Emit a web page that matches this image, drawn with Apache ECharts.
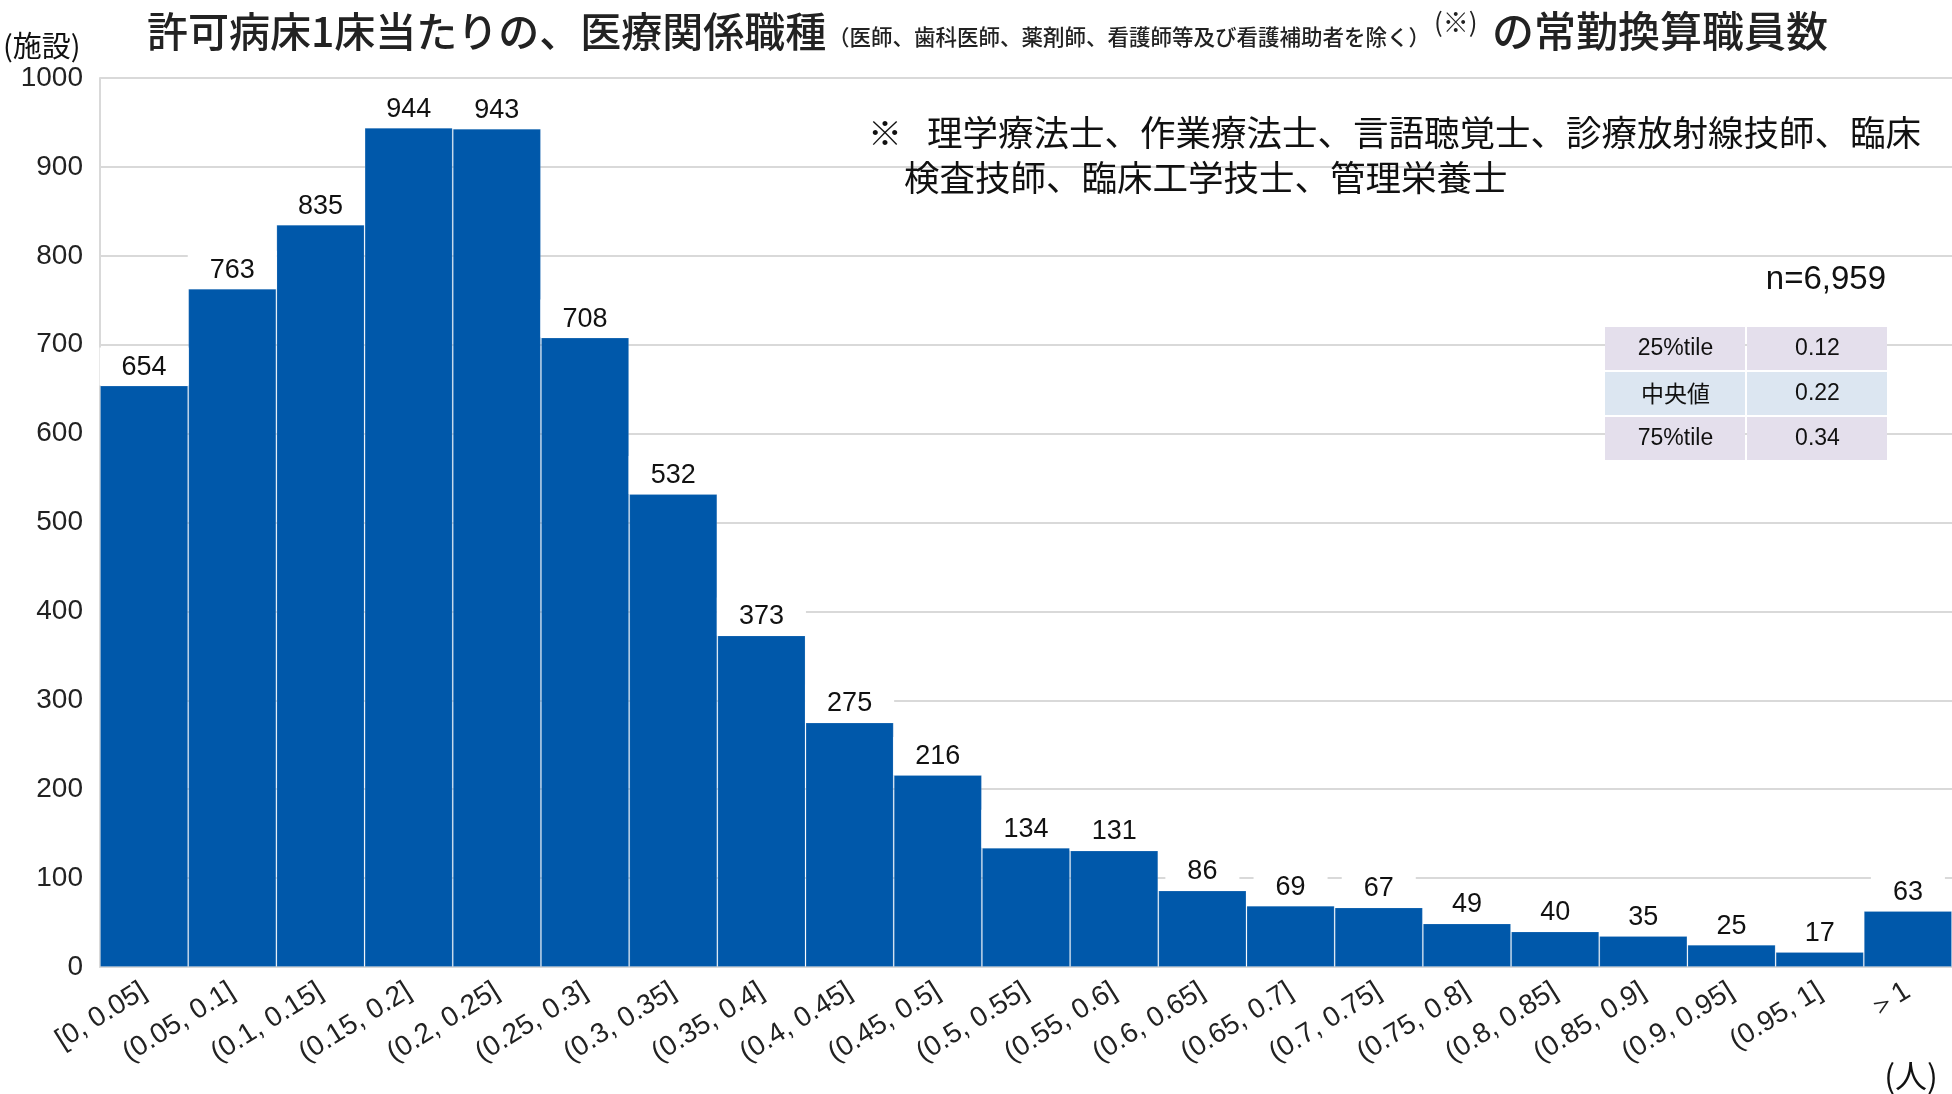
<!DOCTYPE html>
<html><head><meta charset="utf-8">
<script src="https://cdn.jsdelivr.net/npm/echarts@6/dist/echarts.min.js"></script>
<style>html,body{margin:0;padding:0;background:#fff}#c{width:1952px;height:1094px}</style>
</head><body><div id="c"></div>
<script>
const categories = ['[0, 0.05]','(0.05, 0.1]','(0.1, 0.15]','(0.15, 0.2]','(0.2, 0.25]','(0.25, 0.3]','(0.3, 0.35]','(0.35, 0.4]','(0.4, 0.45]','(0.45, 0.5]','(0.5, 0.55]','(0.55, 0.6]','(0.6, 0.65]','(0.65, 0.7]','(0.7, 0.75]','(0.75, 0.8]','(0.8, 0.85]','(0.85, 0.9]','(0.9, 0.95]','(0.95, 1]','＞1'];
const facilities = [654,763,835,944,943,708,532,373,275,216,134,131,86,69,67,49,40,35,25,17,63];
const yTicks = [0,100,200,300,400,500,600,700,800,900,1000];
const statLabels = ['25%tile','中央値','75%tile'];
const statValues = ['0.12','0.22','0.34'];
const nText = 'n=6,959';

const NUM = '"Liberation Sans", Roboto, Arial, sans-serif';
const JP = '"Noto Sans CJK JP", "Noto Sans", sans-serif';

const chart = echarts.init(document.getElementById('c'), null, {renderer:'canvas'});

const tbl = [];
const tx = 1605, tw1 = 141, tw2 = 141, ty = 327, th = 45;
const rowColors = ['#E4DFEC','#DCE6F1','#E4DFEC'];
statLabels.forEach((lab,i)=>{
  tbl.push({type:'rect', shape:{x:tx, y:ty+i*th, width:tw1-1, height:th-2}, style:{fill:rowColors[i]}, z:50});
  tbl.push({type:'rect', shape:{x:tx+tw1+1, y:ty+i*th, width:tw2-1, height:th-2}, style:{fill:rowColors[i]}, z:50});
  tbl.push({type:'text', x:tx+tw1/2, y:ty+i*th+th/2-1, style:{text:lab, font:'23px '+(i===1?JP:NUM), fill:'#111', align:'center', verticalAlign:'middle'}, z:51});
  tbl.push({type:'text', x:tx+tw1+tw2/2+1, y:ty+i*th+th/2-1, style:{text:statValues[i], font:'23px '+NUM, fill:'#111', align:'center', verticalAlign:'middle'}, z:51});
});

chart.setOption({
  animation:false,
  backgroundColor:'#fff',
  grid:{left:100, right:0, top:78, bottom:127},
  xAxis:{
    type:'category', data:categories,
    axisLine:{show:true, lineStyle:{color:'#d9d9d9', width:2}},
    axisTick:{show:false},
    axisLabel:{rotate:32, interval:0, fontSize:28, fontFamily:NUM, color:'#222', margin:22}
  },
  yAxis:{
    type:'value', min:0, max:1000, interval:100,
    axisLine:{show:true, lineStyle:{color:'#d9d9d9', width:2}},
    axisTick:{show:false},
    splitLine:{show:true, lineStyle:{color:'#d9d9d9', width:2}},
    axisLabel:{fontSize:28, fontFamily:NUM, color:'#222', margin:17, formatter:v=>String(v)}
  },
  series:[{
    type:'bar', data:facilities, barCategoryGap:'0%',
    itemStyle:{color:'#0058AA', borderColor:'rgba(255,255,255,0.16)', borderWidth:1},
    label:{show:true, position:'top', distance:0, fontSize:27, fontFamily:NUM, color:'#111',
      backgroundColor:'#fff', padding:[6,22,5,22]}
  }],
  graphic:[
    {type:'text', x:3, y:46, style:{text:'(施設)', font:'29px '+JP, fill:'#111', verticalAlign:'middle'}, z:60},
    {type:'text', x:147, y:31, style:{text:'許可病床1床当たりの、医療関係職種', font:'500 41px '+JP, fill:'#222', verticalAlign:'middle'}, z:60},
    {type:'text', x:828, y:37, style:{text:'（医師、歯科医師、薬剤師、看護師等及び看護補助者を除く）', font:'500 21.5px '+JP, fill:'#222', verticalAlign:'middle'}, z:60},
    {type:'text', x:1434, y:22, style:{text:'(※)', font:'26px '+JP, fill:'#222', verticalAlign:'middle'}, z:60},
    {type:'text', x:1492, y:31, style:{text:'の常勤換算職員数', font:'500 42px '+JP, fill:'#222', verticalAlign:'middle'}, z:60},
    {type:'text', x:868, y:133, style:{text:'※', font:'34px '+JP, fill:'#111', verticalAlign:'middle'}, z:60},
    {type:'text', x:927, y:133, style:{text:'理学療法士、作業療法士、言語聴覚士、診療放射線技師、臨床', font:'35.5px '+JP, fill:'#111', verticalAlign:'middle'}, z:60},
    {type:'text', x:904, y:178, style:{text:'検査技師、臨床工学技士、管理栄養士', font:'35.5px '+JP, fill:'#111', verticalAlign:'middle'}, z:60},
    {type:'text', x:1886, y:280, style:{text:nText, font:'33px '+NUM, fill:'#111', align:'right', verticalAlign:'middle'}, z:60},
    {type:'text', x:1911, y:1076, style:{text:'(人)', font:'32px '+JP, fill:'#111', align:'center', verticalAlign:'middle'}, z:60}
  ].concat(tbl)
});
</script></body></html>
